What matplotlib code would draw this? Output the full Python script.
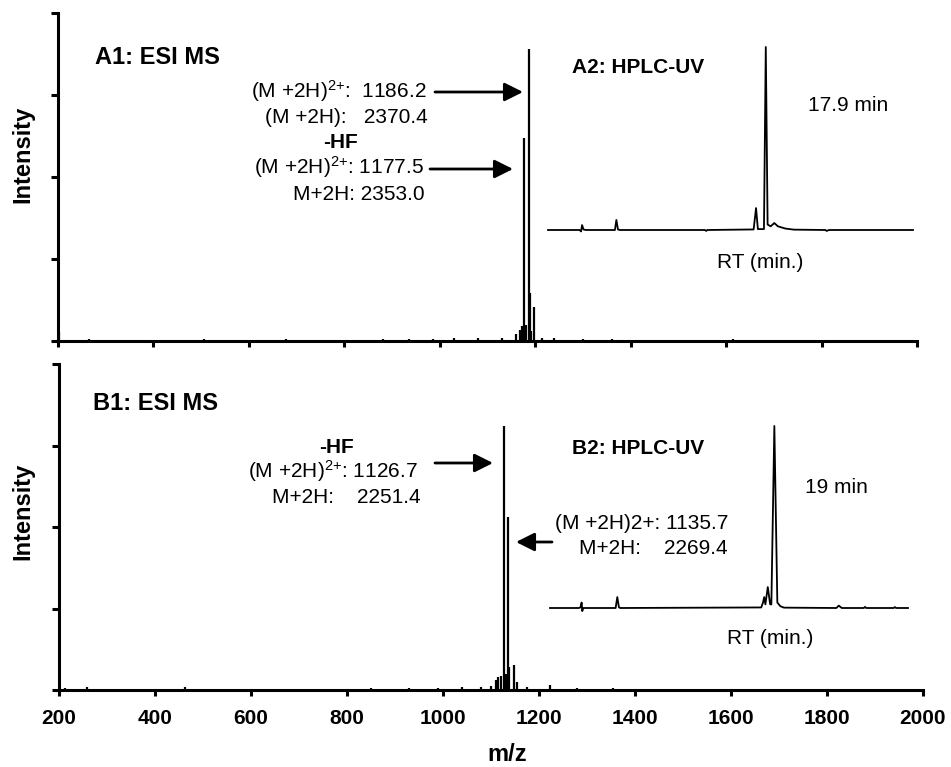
import matplotlib
matplotlib.use('Agg')
import matplotlib.pyplot as plt

# ESI MS stick spectra (m/z, relative intensity)
A1_MZ = [203, 265, 505, 677, 880, 935, 985, 1030, 1080, 1130, 1160, 1168, 1172,
         1177.5, 1181, 1186.2, 1189, 1192, 1198, 1215, 1240, 1300, 1360, 1615]
A1_INT = [2.7, 0.5, 0.5, 0.5, 0.6, 0.6, 0.7, 0.9, 0.9, 1.0, 2.0, 3.5, 4.5,
          62, 5, 89, 14.6, 3, 10.4, 0.8, 1.0, 0.5, 0.5, 0.6]

B1_MZ = [212, 258, 462, 760, 850, 930, 990, 1040, 1080, 1100, 1110, 1115, 1120,
         1126.7, 1131, 1135.7, 1138.5, 1147, 1155, 1175, 1223, 1280, 1355]
B1_INT = [0.7, 1.0, 0.8, 0.4, 0.5, 0.6, 0.6, 0.8, 1.0, 1.2, 3, 4, 4.2,
          81, 5, 53, 7, 7.7, 2.5, 0.8, 1.6, 0.6, 0.6]

# HPLC-UV traces (retention time in min, signal in % of main peak)
A2_RT = [0.0, 2.6, 2.72, 2.8, 2.92, 3.1, 5.5, 5.62, 5.75, 5.9, 12.9, 13.0, 13.1,
         16.9, 17.1, 17.25, 17.75, 17.9, 18.05, 18.3, 18.6, 18.9, 19.5, 20.2,
         22.8, 22.9, 23.1, 30.0]
A2_SIG = [0, 0, -0.8, 2.7, 0.3, 0, 0, 5.5, 0.3, 0, 0, -0.5, 0,
          0.3, 12, 0.5, 0.5, 100, 3, 2, 3.8, 2, 0.8, 0.2,
          0, -0.5, 0, 0]

B2_RT = [0.0, 2.4, 2.55, 2.65, 2.7, 2.8, 5.5, 5.64, 5.78, 5.9, 17.7, 17.85,
         17.95, 18.05, 18.25, 18.45, 18.55, 18.8, 19.05, 19.3, 19.6, 24.0, 24.2,
         24.45, 26.3, 26.4, 26.5, 28.8, 28.9, 29.0, 30.0]
B2_SIG = [0, 0, 0.3, 3, -1.7, 0, 0, 6, 0.3, 0, 0.3, 3,
          6, 2, 11.5, 2, 2, 100, 3, 1, 0.2, 0, 1.3,
          0, 0, 0.6, 0, 0, 0.5, 0, 0]

X_TICKS = [200, 400, 600, 800, 1000, 1200, 1400, 1600, 1800, 2000]

W, H = 951, 767

plt.rcParams['font.family'] = ['Liberation Sans', 'DejaVu Sans']
plt.rcParams['mathtext.fontset'] = 'custom'
plt.rcParams['mathtext.rm'] = 'Liberation Sans'


# Helper to turn picture pixels into figure fractions
def px(x, y):
    return x / W, 1 - y / H


def ax_box(left, top, right, bottom):
    return [left / W, 1 - bottom / H, (right - left) / W, (bottom - top) / H]


def style_ms_axis(ax, show_labels):
    ax.set_xlim(200, 2000)
    ax.set_ylim(0, 100)
    ax.set_xticks(X_TICKS)
    ax.set_yticks([0, 25, 50, 75, 100])
    ax.set_yticklabels([])
    if not show_labels:
        ax.set_xticklabels([])
    ax.spines['top'].set_visible(False)
    ax.spines['right'].set_visible(False)
    for s in ['left', 'bottom']:
        ax.spines[s].set_linewidth(2.2)
    ax.tick_params(axis='x', direction='out', length=4.5, width=2.2, pad=9,
                   labelsize=15)
    ax.tick_params(axis='y', direction='out', length=5, width=2.2)
    for lab in ax.get_xticklabels():
        lab.set_fontweight('bold')


fig = plt.figure(figsize=(W / 100, H / 100), dpi=100)

# Top MS panel
ax1 = fig.add_axes(ax_box(58, 13, 917, 341))
ax1.vlines(A1_MZ, 0, A1_INT, color='black', linewidth=1.6)
style_ms_axis(ax1, False)

# Bottom MS panel
ax2 = fig.add_axes(ax_box(59, 364, 923, 690))
ax2.vlines(B1_MZ, 0, B1_INT, color='black', linewidth=1.6)
style_ms_axis(ax2, True)

# HPLC insets
ins1 = fig.add_axes(ax_box(548, 47, 913, 230))
ins1.plot(A2_RT, A2_SIG, color='black', linewidth=1.3, clip_on=False)
ins1.set_xlim(0, 30)
ins1.set_ylim(0, 100)
ins1.axis('off')

ins2 = fig.add_axes(ax_box(550, 426, 908, 608))
ins2.plot(B2_RT, B2_SIG, color='black', linewidth=1.3, clip_on=False)
ins2.set_xlim(0, 30)
ins2.set_ylim(0, 100)
ins2.axis('off')

# Axis labels
fig.text(*px(23, 154), "Intensity", rotation=90, fontsize=17, fontweight='bold',
         ha='center', va='center')
fig.text(*px(23, 511), "Intensity", rotation=90, fontsize=17, fontweight='bold',
         ha='center', va='center')
fig.text(*px(507, 766), "m/z", fontsize=17, fontweight='bold', ha='center',
         va='bottom')

# Ion label with a small 2+ superscript on the bracket
ION = r"(M +2H$\mathregular{)^{2{+}}}$"
FS = 15

# Panel A texts
fig.text(*px(95, 64), "A1: ESI MS", fontsize=17, fontweight='bold', va='baseline')
fig.text(*px(427, 98), ION + ":  1186.2", fontsize=FS, ha='right', va='baseline')
fig.text(*px(428, 123), "(M +2H):   2370.4", fontsize=FS, ha='right', va='baseline')
fig.text(*px(340, 148), "-HF", fontsize=FS, fontweight='bold', ha='center', va='baseline')
fig.text(*px(424, 174), ION + ": 1177.5", fontsize=FS, ha='right', va='baseline')
fig.text(*px(425, 200), "M+2H: 2353.0", fontsize=FS, ha='right', va='baseline')
fig.text(*px(572, 73), "A2: HPLC-UV", fontsize=15, fontweight='bold', va='baseline')
fig.text(*px(808, 111), "17.9 min", fontsize=FS, va='baseline')
fig.text(*px(717, 268), "RT (min.)", fontsize=FS, va='baseline')

# Panel B texts
fig.text(*px(93, 410), "B1: ESI MS", fontsize=17, fontweight='bold', va='baseline')
fig.text(*px(337, 453), "-HF", fontsize=FS, fontweight='bold', ha='center', va='baseline')
fig.text(*px(418, 478), ION + ": 1126.7", fontsize=FS, ha='right', va='baseline')
fig.text(*px(421, 503), "M+2H:    2251.4", fontsize=FS, ha='right', va='baseline')
fig.text(*px(555, 529), "(M +2H)2+: 1135.7", fontsize=FS, va='baseline')
fig.text(*px(728, 554), "M+2H:    2269.4", fontsize=FS, ha='right', va='baseline')
fig.text(*px(572, 454), "B2: HPLC-UV", fontsize=15, fontweight='bold', va='baseline')
fig.text(*px(805, 493), "19 min", fontsize=FS, va='baseline')
fig.text(*px(727, 644), "RT (min.)", fontsize=FS, va='baseline')

# Arrows pointing at the peaks
arrow = dict(arrowstyle='-|>,head_length=0.4,head_width=0.2', mutation_scale=28,
             color='black', lw=2, shrinkA=0, shrinkB=0)
for tail, tip in [((435, 92), (523, 92)), ((430, 169), (513, 169)),
                  ((435, 463), (493, 463)), ((552, 542), (516, 542))]:
    fig.add_artist(matplotlib.patches.FancyArrowPatch(
        px(*tail), px(*tip), transform=fig.transFigure, **arrow))

fig.savefig("out.png", dpi=100)
